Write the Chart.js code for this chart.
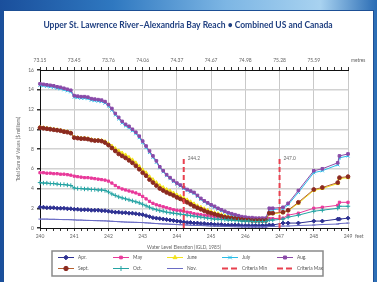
<!DOCTYPE html>
<html>
<head>
<meta charset="utf-8">
<script src="https://cdn.jsdelivr.net/npm/chart.js@4.4.1/dist/chart.umd.min.js"></script>
<style>
  html, body { margin: 0; padding: 0; }
  body {
    width: 377px; height: 282px; overflow: hidden; position: relative;
    background: linear-gradient(90deg, #1a4f9c 0%, #2f78c0 30%, #7db6e4 60%, #a8d2f0 85%, #2a6cb4 100%);
  }
  #panel { position: absolute; left: 4px; top: 11px; width: 369px; height: 271px; background: #fff; box-shadow: 0 0 0 1px #1d4f95; }
  #chart { position: absolute; left: 0; top: 0; }
</style>
</head>
<body>
<div id="panel"></div>
<canvas id="chart" width="377" height="282"></canvas>
<script>
// Water level (feet, IGLD 1985) for every plotted point
const elevation = [
  240.0, 240.1, 240.2, 240.3, 240.4, 240.5, 240.6, 240.7, 240.8, 240.9,
  241.0, 241.1, 241.2, 241.3, 241.4, 241.5, 241.6, 241.7, 241.8, 241.9,
  242.0, 242.1, 242.2, 242.3, 242.4, 242.5, 242.6, 242.7, 242.8, 242.9,
  243.0, 243.1, 243.2, 243.3, 243.4, 243.5, 243.6, 243.7, 243.8, 243.9,
  244.0, 244.1, 244.2, 244.3, 244.4, 244.5, 244.6, 244.7, 244.8, 244.9,
  245.0, 245.1, 245.2, 245.3, 245.4, 245.5, 245.6, 245.7, 245.8, 245.9,
  246.0, 246.1, 246.2, 246.3, 246.4, 246.5, 246.6,
  246.7, 246.8, 247.1, 247.25, 247.55, 248.0, 248.25, 248.7, 248.75, 249.0
];

// Total sum of values ($ millions) per month
const apr = [
  2.1, 2.1, 2.05, 2.05, 2.05, 2.0, 2.0, 2.0, 1.95, 1.95,
  1.9, 1.9, 1.85, 1.85, 1.85, 1.8, 1.8, 1.8, 1.75, 1.75,
  1.7, 1.65, 1.6, 1.6, 1.55, 1.55, 1.5, 1.5, 1.45, 1.4,
  1.35, 1.25, 1.15, 1.05, 1.0, 0.95, 0.9, 0.85, 0.8, 0.75,
  0.7, 0.65, 0.6, 0.55, 0.55, 0.5, 0.5, 0.45, 0.45, 0.4,
  0.4, 0.35, 0.35, 0.35, 0.3, 0.3, 0.3, 0.3, 0.3, 0.25,
  0.25, 0.25, 0.25, 0.25, 0.25, 0.25, 0.25,
  0.3, 0.3, 0.5, 0.5, 0.5, 0.7, 0.7, 0.9, 0.9, 1.0
];
const may = [
  5.6, 5.6, 5.55, 5.55, 5.5, 5.5, 5.45, 5.45, 5.4, 5.35,
  5.25, 5.2, 5.15, 5.1, 5.1, 5.05, 5.0, 4.95, 4.9, 4.85,
  4.75, 4.55, 4.3, 4.1, 3.95, 3.85, 3.75, 3.65, 3.55, 3.4,
  3.2, 2.95, 2.7, 2.5, 2.35, 2.25, 2.15, 2.05, 1.95, 1.85,
  1.8, 1.75, 1.7, 1.6, 1.55, 1.45, 1.4, 1.35, 1.3, 1.25,
  1.2, 1.15, 1.1, 1.05, 1.0, 1.0, 0.95, 0.95, 0.9, 0.9,
  0.85, 0.85, 0.85, 0.85, 0.85, 0.85, 0.85,
  0.95, 0.95, 1.0, 1.3, 1.5, 2.0, 2.1, 2.3, 2.6, 2.6
];
const june = [
  10.2, 10.15, 10.1, 10.05, 10.0, 9.95, 9.9, 9.8, 9.75, 9.65,
  9.2, 9.15, 9.1, 9.1, 9.05, 8.95, 8.9, 8.9, 8.85, 8.75,
  8.55, 8.3, 8.05, 7.8, 7.6, 7.4, 7.15, 6.9, 6.6, 6.25,
  5.9, 5.6, 5.2, 4.9, 4.6, 4.3, 4.1, 3.9, 3.75, 3.55,
  3.35, 3.2, 3.05, 2.85, 2.65, 2.45, 2.25, 2.1, 1.95, 1.8,
  1.65, 1.55, 1.45, 1.35, 1.25, 1.15, 1.1, 1.05, 1.0, 0.95,
  0.9, 0.9, 0.85, 0.85, 0.85, 0.85, 0.85,
  1.45, 1.45, 1.55, 1.75, 2.5, 3.8, 4.0, 4.5, 5.0, 5.1
];
const july = [
  14.45, 14.4, 14.35, 14.3, 14.25, 14.15, 14.1, 14.0, 13.9, 13.8,
  13.25, 13.2, 13.15, 13.15, 13.1, 12.95, 12.9, 12.85, 12.8, 12.65,
  12.35, 11.95, 11.45, 11.05, 10.65, 10.35, 10.15, 9.85, 9.55, 9.15,
  8.65, 8.15, 7.65, 7.15, 6.65, 6.1, 5.7, 5.3, 5.0, 4.7,
  4.45, 4.25, 4.0, 3.8, 3.65, 3.5, 3.2, 2.9, 2.65, 2.45,
  2.25, 2.1, 1.9, 1.75, 1.6, 1.45, 1.35, 1.25, 1.15, 1.05,
  1.0, 0.95, 0.95, 0.9, 0.9, 0.9, 0.9,
  1.85, 1.85, 1.95, 2.35, 3.6, 5.6, 5.8, 6.4, 7.1, 7.3
];
const aug = [
  14.6, 14.55, 14.5, 14.45, 14.4, 14.3, 14.25, 14.15, 14.05, 13.95,
  13.4, 13.35, 13.3, 13.3, 13.25, 13.1, 13.05, 13.0, 12.95, 12.8,
  12.5, 12.1, 11.6, 11.2, 10.8, 10.5, 10.3, 10.0, 9.7, 9.3,
  8.8, 8.3, 7.8, 7.3, 6.8, 6.2, 5.8, 5.4, 5.1, 4.8,
  4.55, 4.35, 4.1, 3.9, 3.75, 3.6, 3.3, 3.0, 2.75, 2.55,
  2.35, 2.2, 2.0, 1.85, 1.7, 1.55, 1.45, 1.35, 1.25, 1.15,
  1.1, 1.05, 1.05, 1.0, 1.0, 1.0, 1.0,
  2.0, 2.0, 2.1, 2.5, 3.8, 5.8, 6.0, 6.6, 7.3, 7.5
];
const sept = [
  10.15, 10.1, 10.05, 10.0, 9.95, 9.9, 9.85, 9.75, 9.7, 9.6,
  9.15, 9.1, 9.05, 9.05, 9.0, 8.9, 8.85, 8.85, 8.8, 8.65,
  8.4, 8.1, 7.8, 7.5, 7.3, 7.1, 6.85, 6.6, 6.3, 5.95,
  5.6, 5.3, 4.9, 4.6, 4.3, 4.0, 3.8, 3.6, 3.45, 3.3,
  3.1, 2.95, 2.8, 2.6, 2.4, 2.2, 2.05, 1.9, 1.75, 1.6,
  1.5, 1.4, 1.3, 1.2, 1.1, 1.05, 1.0, 0.95, 0.9, 0.85,
  0.8, 0.8, 0.75, 0.75, 0.75, 0.75, 0.75,
  1.5, 1.5, 1.6, 1.8, 2.6, 3.9, 4.1, 4.6, 5.1, 5.2
];
const oct = [
  4.6, 4.55, 4.55, 4.5, 4.5, 4.45, 4.4, 4.4, 4.35, 4.3,
  4.05, 4.0, 4.0, 3.95, 3.95, 3.9, 3.9, 3.85, 3.85, 3.8,
  3.65, 3.45, 3.3, 3.15, 3.05, 2.95, 2.85, 2.75, 2.65, 2.55,
  2.4, 2.25, 2.1, 1.95, 1.85, 1.75, 1.7, 1.6, 1.55, 1.5,
  1.45, 1.4, 1.35, 1.3, 1.25, 1.2, 1.15, 1.1, 1.05, 1.0,
  0.95, 0.9, 0.9, 0.85, 0.85, 0.8, 0.8, 0.75, 0.75, 0.7,
  0.7, 0.7, 0.65, 0.65, 0.65, 0.65, 0.65,
  0.8, 0.8, 0.9, 1.1, 1.3, 1.7, 1.8, 2.0, 2.2, 2.2
];
const nov = [
  0.9, 0.9, 0.9, 0.88, 0.88, 0.87, 0.86, 0.85, 0.85, 0.84,
  0.82, 0.8, 0.8, 0.78, 0.77, 0.76, 0.75, 0.74, 0.73, 0.72,
  0.7, 0.68, 0.66, 0.64, 0.62, 0.6, 0.59, 0.58, 0.57, 0.56,
  0.55, 0.52, 0.5, 0.47, 0.45, 0.43, 0.41, 0.4, 0.38, 0.37,
  0.35, 0.33, 0.32, 0.3, 0.28, 0.27, 0.26, 0.25, 0.24, 0.22,
  0.2, 0.19, 0.18, 0.17, 0.16, 0.15, 0.14, 0.13, 0.12, 0.12,
  0.11, 0.11, 0.1, 0.1, 0.1, 0.1, 0.1,
  0.15, 0.15, 0.2, 0.2, 0.25, 0.3, 0.35, 0.4, 0.45, 0.5
];

// Criteria lines (feet) and how high their markers reach
const criteriaNames = ['Criteria Min', 'Criteria Max'];
const criteriaLevels = [244.2, 247.0];
const criteriaTop = [7.0, 7.0];

// Top axis labels in metres for 240..248 ft
const metresLabels = ['73.15', '73.45', '73.76', '74.06', '74.37', '74.67', '74.98', '75.28', '75.59'];

const titleText = 'Upper St. Lawrence River\u2013Alexandria Bay Reach \u2022 Combined US and Canada';

const months = [
  { label: 'Apr.',  values: apr,  color: '#2e3192', point: 'rectRot',  radius: 2 },
  { label: 'May',   values: may,  color: '#e8399a', point: 'rect',     radius: 1.6 },
  { label: 'June',  values: june, color: '#f2e21c', point: 'triangle', radius: 2 },
  { label: 'July',  values: july, color: '#29bde8', point: 'crossRot', radius: 2.2 },
  { label: 'Aug.',  values: aug,  color: '#8a4aa8', point: 'rect',     radius: 1.8 },
  { label: 'Sept.', values: sept, color: '#8b2a20', point: 'circle',   radius: 1.9, line: '#b5602e' },
  { label: 'Oct.',  values: oct,  color: '#24a3a3', point: 'cross',    radius: 2.2 },
  { label: 'Nov.',  values: nov,  color: '#6a6cc4', point: 'line',     radius: 1.6 }
];

const isWhole = v => Math.abs(v - Math.round(v)) < 1e-6;

const datasets = months.map((m, i) => ({
  label: m.label,
  data: elevation.map((e, j) => ({ x: e, y: m.values[j] })),
  borderColor: m.line || m.color,
  backgroundColor: m.color,
  pointBorderColor: m.color,
  pointBackgroundColor: m.color,
  pointStyle: m.point,
  pointRadius: m.radius,
  pointBorderWidth: 1,
  borderWidth: 1,
  tension: 0,
  clip: false,
  order: 20 - i  // later months drawn on top
}));

criteriaLevels.forEach((lvl, i) => {
  datasets.push({
    label: criteriaNames[i],
    data: [{ x: lvl, y: 0 }, { x: lvl, y: criteriaTop[i] }],
    borderColor: '#e8414f',
    borderWidth: 2,
    borderDash: [5, 3],
    pointRadius: 0,
    clip: false,
    order: 1
  });
});

// Title, axis titles, unit labels, criteria labels and the boxed legend
const extrasPlugin = {
  id: 'extras',
  afterDraw(chart) {
    const ctx = chart.ctx;
    const area = chart.chartArea;
    ctx.save();

    ctx.fillStyle = '#1f3f80';
    ctx.font = 'bold 8.5px Lato';
    ctx.textAlign = 'center';
    ctx.textBaseline = 'middle';
    ctx.fillText(titleText, 188, 25);

    ctx.fillStyle = '#666';
    ctx.font = '4.8px Lato';
    ctx.fillText('Water Level Elevation (IGLD, 1985)', 184, 247);
    ctx.textAlign = 'left';
    ctx.fillText('metres', area.right + 3, 60);
    ctx.fillText('feet', area.right + 7, 236);

    ctx.save();
    ctx.translate(18, (area.top + area.bottom) / 2);
    ctx.rotate(-Math.PI / 2);
    ctx.textAlign = 'center';
    ctx.fillText('Total Sum of Values ($ millions)', 0, 0);
    ctx.restore();

    // criteria labels next to the top of each line
    criteriaLevels.forEach((lvl, i) => {
      const pt = chart.getDatasetMeta(months.length + i).data[1];
      ctx.fillStyle = '#666';
      ctx.textAlign = 'left';
      ctx.fillText(lvl.toFixed(1), pt.x + 4, pt.y);
    });

    // legend box
    const box = { left: 52, top: 251, width: 271, height: 25 };
    ctx.strokeStyle = '#8a8a8a';
    ctx.lineWidth = 1.5;
    ctx.strokeRect(box.left, box.top, box.width, box.height);

    const colX = [58, 113, 167, 222, 277];
    const rowY = [257.5, 268.5];
    chart.data.datasets.forEach((ds, i) => {
      const x = colX[i % 5];
      const y = rowY[Math.floor(i / 5)];
      ctx.save();
      ctx.strokeStyle = ds.borderColor;
      ctx.lineWidth = ds.borderWidth;
      if (ds.borderDash) ctx.setLineDash([6, 3]);
      ctx.beginPath();
      ctx.moveTo(x, y);
      ctx.lineTo(x + 16, y);
      ctx.stroke();
      ctx.setLineDash([]);
      if (ds.pointRadius) {
        ctx.strokeStyle = ds.pointBorderColor;
        ctx.fillStyle = ds.pointBackgroundColor;
        ctx.lineWidth = 1;
        Chart.helpers.drawPoint(ctx, { pointStyle: ds.pointStyle, radius: ds.pointRadius + 0.3, borderWidth: 1, rotation: 0 }, x + 8, y);
      }
      ctx.restore();
      ctx.fillStyle = '#555';
      ctx.textAlign = 'left';
      ctx.fillText(ds.label, x + 20, y);
    });

    ctx.restore();
  }
};

const tickFont = { family: 'Lato', size: 5 };

new Chart(document.getElementById('chart'), {
  type: 'line',
  data: { datasets },
  options: {
    responsive: false,
    animation: false,
    layout: { padding: { left: 0, right: 29, top: 0, bottom: 40 } },
    plugins: {
      legend: { display: false },
      title: { display: false },
      tooltip: { enabled: false }
    },
    scales: {
      x: {
        type: 'linear',
        position: 'bottom',
        min: 240,
        max: 249,
        afterFit: s => { s.height = 14; },
        ticks: {
          stepSize: 0.2,
          maxTicksLimit: 100,
          autoSkip: false,
          maxRotation: 0,
          padding: 2,
          font: tickFont,
          color: '#666',
          callback: v => isWhole(v) ? String(Math.round(v)) : ''
        },
        grid: {
          color: c => isWhole(c.tick.value) ? '#c9c9c9' : 'rgba(0,0,0,0)',
          tickColor: '#333',
          tickLength: 3,
          lineWidth: 1
        },
        border: { color: '#111', width: 1 }
      },
      x2: {
        type: 'linear',
        position: 'top',
        min: 240,
        max: 249,
        afterFit: s => { s.height = 70; },
        ticks: {
          stepSize: 0.2,
          maxTicksLimit: 100,
          autoSkip: false,
          maxRotation: 0,
          padding: 4,
          font: tickFont,
          color: '#666',
          callback: v => isWhole(v) ? (metresLabels[Math.round(v) - 240] || '') : ''
        },
        grid: {
          drawOnChartArea: false,
          tickColor: '#333',
          tickLength: 3
        },
        border: { color: '#111', width: 1 }
      },
      y: {
        min: 0,
        max: 16,
        afterFit: s => { s.width = 40; },
        ticks: {
          stepSize: 2,
          padding: 3,
          font: tickFont,
          color: '#666'
        },
        grid: {
          color: c => (c.tick.value === 0 || c.tick.value === 16) ? 'rgba(0,0,0,0)' : '#d2d2d2',
          lineWidth: 1.5,
          tickColor: '#333',
          tickLength: 3
        },
        border: { color: '#111', width: 1 }
      }
    }
  },
  plugins: [extrasPlugin]
});
</script>
</body>
</html>
